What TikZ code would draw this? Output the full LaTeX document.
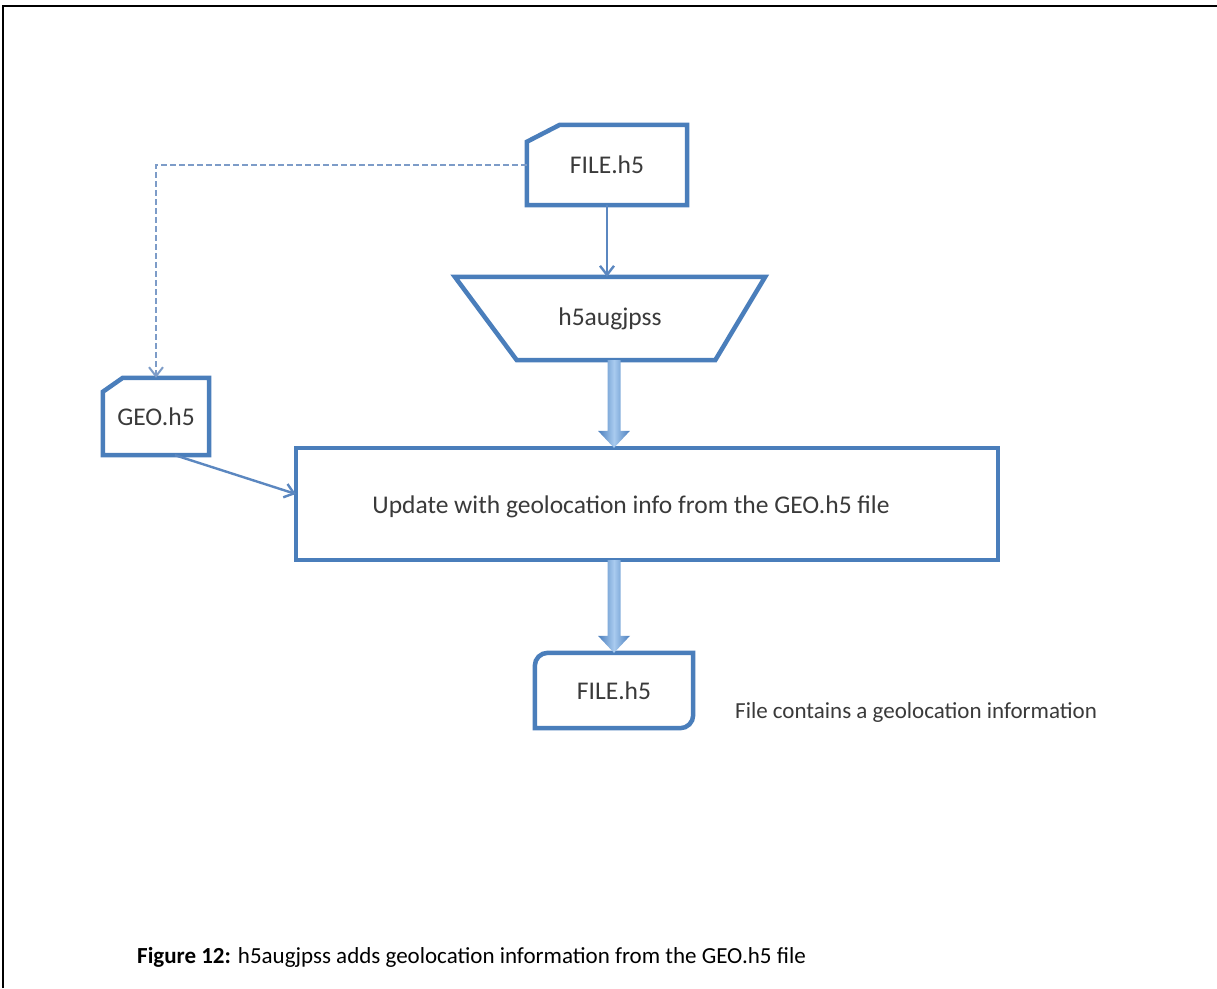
\documentclass[tikz,border=0pt]{standalone}
\usepackage{fontspec}
\setmainfont{Carlito}
\usetikzlibrary{calc,arrows.meta}
\definecolor{edgeblue}{HTML}{4A7EBB}
\definecolor{linkblue}{HTML}{5B87C0}
\definecolor{dashblue}{HTML}{7D9CC8}
\definecolor{inkgray}{HTML}{3A3A3A}
\definecolor{arrowlight}{HTML}{A9CBEF}
\definecolor{arrowdark}{HTML}{4A7EBD}

\begin{document}
\begin{tikzpicture}[x=1pt,y=-1pt,
  txt/.style={text=inkgray,font=\fontsize{25.5}{30}\selectfont,inner sep=0pt},
  holder/.style={txt,draw=none},
  outline/.style={draw=edgeblue,line width=4.5pt,line join=miter},
  link/.style={draw=linkblue,line width=2.4pt,-{Straight Barb[length=9pt,width=14pt]}},
  dashedlink/.style={link,draw=dashblue,line width=2pt,dash pattern=on 6pt off 3pt},
  blockarrow/.style={left color=arrowdark,right color=arrowdark,middle color=arrowlight}
]
\useasboundingbox (0,0) rectangle (1217,988);
\fill[white] (0,0) rectangle (1217,988);

% frame lines of the figure cell
\draw[black,line width=2.5pt] (3,988) -- (3,6) -- (1217,6);

% input file (snipped corner)
\node[holder,minimum width=160pt,minimum height=80pt] (fin) at (607,165) {FILE.h5};
\draw[outline] ([xshift=33pt]fin.north west) -- (fin.north east) -- (fin.south east)
  -- (fin.south west) -- ([yshift=-17pt]fin.north west) -- cycle;

% tool (inverted trapezoid)
\node[holder,minimum width=310pt,minimum height=83pt] (aug) at (610,318.5) {h5augjpss};
\draw[outline] (aug.north west) -- (aug.north east) -- ([xshift=-50pt]aug.south east)
  -- ([xshift=62pt]aug.south west) -- cycle;

% geolocation file (snipped corner)
\node[holder,minimum width=106pt,minimum height=77pt] (geo) at (156,416.5) {GEO.h5};
\draw[outline] ([xshift=20pt]geo.north west) -- (geo.north east) -- (geo.south east)
  -- (geo.south west) -- ([yshift=-14pt]geo.north west) -- cycle;

% processing step
\node[holder,minimum width=702pt,minimum height=112pt] (upd) at (647,504) {};
\draw[outline] (upd.north west) rectangle (upd.south east);
\node[txt] (updtext) at ([xshift=-16pt,yshift=-3pt]upd.center)
  {Update with geolocation info from the GEO.h5 file};

% output file (round diagonal corners)
\node[holder,minimum width=158pt,minimum height=75pt] (fout) at (614,690.5) {FILE.h5};
\draw[outline] ([yshift=-13pt]fout.north west) arc[start angle=180,end angle=90,radius=13pt]
  -- (fout.north east) -- ([yshift=13pt]fout.south east)
  arc[start angle=0,end angle=-90,radius=13pt] -- (fout.south west) -- cycle;

\node[txt,anchor=west,font=\fontsize{23}{27}\selectfont] (note) at (735,712)
  {File contains a geolocation information};

% connectors
\draw[link] (fin.south) -- (fin.south |- aug.north);
\draw[dashedlink] (fin.west) -| (geo.north);
\draw[link] ([xshift=19pt]geo.south) -- ([yshift=10pt]upd.west);

\coordinate (b1s) at (aug.south -| fout.north);
\coordinate (b1e) at (upd.north -| fout.north);
\coordinate (b2s) at (upd.south -| fout.north);
\coordinate (b2e) at (fout.north);
\shade[blockarrow] ($(b1s)+(-6.5,0)$) -- ($(b1e)+(-6.5,-17)$) -- ($(b1e)+(-16,-17)$) -- (b1e)
  -- ($(b1e)+(16,-17)$) -- ($(b1e)+(6.5,-17)$) -- ($(b1s)+(6.5,0)$) -- cycle;
\shade[blockarrow] ($(b2s)+(-6.5,0)$) -- ($(b2e)+(-6.5,-17)$) -- ($(b2e)+(-16,-17)$) -- (b2e)
  -- ($(b2e)+(16,-17)$) -- ($(b2e)+(6.5,-17)$) -- ($(b2s)+(6.5,0)$) -- cycle;

% caption
\node[anchor=west,inner sep=0pt,text=black,font=\fontsize{23}{27}\selectfont] (cap) at (137,957)
  {\textbf{Figure 12:} h5augjpss adds geolocation information from the GEO.h5 file};
\end{tikzpicture}
\end{document}
